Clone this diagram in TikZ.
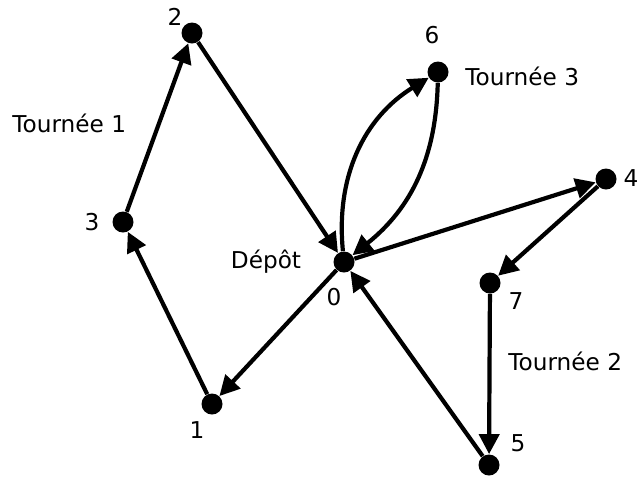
\documentclass[tikz,border=0pt]{standalone}
\usepackage{fontspec}
\setmainfont{DejaVu Sans}
\usetikzlibrary{arrows.meta}
\begin{document}
\begin{tikzpicture}[x=0.5pt,y=-0.5pt,
  sommet/.style={circle,fill=black,inner sep=0pt,minimum size=10.5pt},
  arc/.style={line width=2.1pt,-{Triangle[length=10pt,width=10pt]}},
  every node/.append style={font=\fontsize{11.6}{13}\selectfont}]
\useasboundingbox (0,0) rectangle (637,478);
% sommets
\node[sommet] (s0) at (344,262) {};
\node[sommet] (s1) at (212,404) {};
\node[sommet] (s2) at (192,33) {};
\node[sommet] (s3) at (123,222) {};
\node[sommet] (s4) at (606,179) {};
\node[sommet] (s5) at (489,465) {};
\node[sommet] (s6) at (438,72) {};
\node[sommet] (s7) at (490,283) {};
% etiquettes
\node (n0) at (334,297) {0};
\node (n1) at (197,430) {1};
\node (n2) at (175,17) {2};
\node (n3) at (92,222) {3};
\node (n4) at (631,178) {4};
\node (n5) at (518,443) {5};
\node (n6) at (432,35) {6};
\node (n7) at (516,301) {7};
\node (depot) at (266,262) {Dépôt};
\node[anchor=west,inner sep=0pt] (t1) at (12,123) {Tournée 1};
\node[anchor=west,inner sep=0pt] (t2) at (508,361) {Tournée 2};
\node[anchor=west,inner sep=0pt] (t3) at (465,76) {Tournée 3};
% tournee 1
\draw[arc] (s0) -- (s1);
\draw[arc] (s1) -- (s3);
\draw[arc] (s3) -- (s2);
\draw[arc] (s2) -- (s0);
% tournee 2
\draw[arc] (s0) -- (s4);
\draw[arc] (s4) -- (s7);
\draw[arc] (s7) -- (s5);
\draw[arc] (s5) -- (s0);
% tournee 3
\draw[arc] (s0) to[bend left=32] (s6);
\draw[arc] (s6) to[bend left=25] (s0);
\end{tikzpicture}
\end{document}
